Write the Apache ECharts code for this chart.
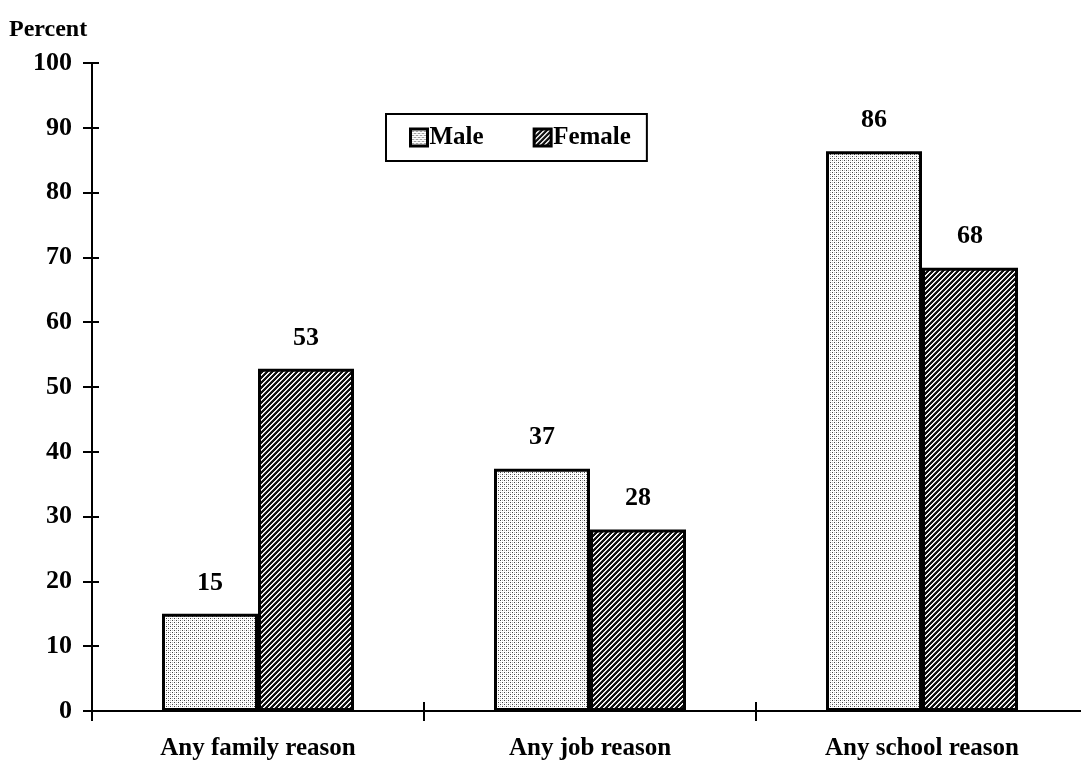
<!DOCTYPE html>
<html>
<head>
<meta charset="utf-8">
<script src="https://cdn.jsdelivr.net/npm/echarts@6/dist/echarts.min.js"></script>
<style>
html,body{margin:0;padding:0;background:#fff;overflow:hidden;}
#chart{width:1088px;height:762px;}
</style>
</head>
<body>
<div id="chart"></div>
<script>
const categories = ['Any family reason', 'Any job reason', 'Any school reason'];
const maleValues = [15, 37.4, 86.4];
const femaleValues = [52.8, 28, 68.4];
const seriesNames = ['Male', 'Female'];
const yTicks = { min: 0, max: 100, interval: 10 };

function dotPattern() {
  const c = document.createElement('canvas');
  c.width = 4; c.height = 4;
  const g = c.getContext('2d');
  g.fillStyle = '#ffffff'; g.fillRect(0, 0, 4, 4);
  g.fillStyle = '#444444';
  g.fillRect(0, 0, 1, 1);
  g.fillRect(2, 2, 1, 1);
  g.fillStyle = '#bbbbbb';
  g.fillRect(2, 0, 1, 1);
  g.fillRect(0, 2, 1, 1);
  return c;
}
function hatchPattern() {
  const c = document.createElement('canvas');
  c.width = 5; c.height = 5;
  const g = c.getContext('2d');
  for (let x = 0; x < 5; x++) {
    for (let y = 0; y < 5; y++) {
      const k = (x + y) % 5;
      g.fillStyle = k === 0 ? '#ffffff' : (k === 1 ? '#dddddd' : '#111111');
      g.fillRect(x, y, 1, 1);
    }
  }
  return c;
}
const malePat = { image: dotPattern(), repeat: 'repeat' };
const femalePat = { image: hatchPattern(), repeat: 'repeat' };

const font = '"Liberation Serif", "DejaVu Serif", serif';
const chart = echarts.init(document.getElementById('chart'), null, { renderer: 'canvas' });

const option = {
  animation: false,
  backgroundColor: '#ffffff',
  textStyle: { fontFamily: font, color: '#000' },
  title: {
    text: 'Percent', left: 4, top: 13,
    textStyle: { fontFamily: font, fontSize: 24, fontWeight: 'bold', color: '#000' }
  },
  legend: {
    left: 386, top: 114,
    orient: 'horizontal',
    borderColor: '#000', borderWidth: 2,
    padding: [11, 16, 11, 23],
    itemGap: 49,
    itemWidth: 17, itemHeight: 17,
    icon: 'rect',
    textStyle: { fontFamily: font, fontSize: 25, fontWeight: 'bold', color: '#000', padding: [0, 0, 0, -3] },
    data: [
      { name: 'Male', itemStyle: { borderColor: '#000', borderWidth: 3 } },
      { name: 'Female', itemStyle: { borderColor: '#000', borderWidth: 3 } }
    ]
  },
  grid: { left: 92, top: 63, right: 0, bottom: 51, containLabel: false },
  xAxis: [
    {
      type: 'category', data: categories, position: 'bottom',
      axisLine: { show: true, lineStyle: { color: '#000', width: 2 } },
      axisTick: { show: true, alignWithLabel: false, length: 10, inside: false, lineStyle: { color: '#000', width: 2 } },
      axisLabel: { show: true, margin: 25, fontFamily: font, fontSize: 25, fontWeight: 'bold', color: '#000' },
      splitLine: { show: false }
    },
    {
      type: 'category', data: categories, position: 'bottom',
      axisLine: { show: false },
      axisTick: { show: true, alignWithLabel: false, length: 9, inside: true, lineStyle: { color: '#000', width: 2 } },
      axisLabel: { show: false },
      splitLine: { show: false }
    }
  ],
  yAxis: [
    {
      type: 'value', position: 'left', min: yTicks.min, max: yTicks.max, interval: yTicks.interval,
      axisLine: { show: true, lineStyle: { color: '#000', width: 2 } },
      axisTick: { show: true, length: 9, inside: false, lineStyle: { color: '#000', width: 2 } },
      axisLabel: { show: true, margin: 20, fontFamily: font, fontSize: 26, fontWeight: 'bold', color: '#000' },
      splitLine: { show: false }
    },
    {
      type: 'value', position: 'left', min: yTicks.min, max: yTicks.max, interval: yTicks.interval,
      axisLine: { show: false },
      axisTick: { show: true, length: 7, inside: true, lineStyle: { color: '#000', width: 2 } },
      axisLabel: { show: false },
      splitLine: { show: false }
    }
  ],
  series: [
    {
      name: seriesNames[0], type: 'bar', xAxisIndex: 0, yAxisIndex: 0,
      data: maleValues, barWidth: 96, barGap: '0%',
      itemStyle: { color: malePat, borderColor: '#000', borderWidth: 3 },
      label: {
        show: true, position: 'top', distance: 18,
        fontFamily: font, fontSize: 26, fontWeight: 'bold', color: '#000',
        formatter: p => String(Math.round(p.value))
      }
    },
    {
      name: seriesNames[1], type: 'bar', xAxisIndex: 0, yAxisIndex: 0,
      data: femaleValues, barWidth: 96, barGap: '0%',
      itemStyle: { color: femalePat, borderColor: '#000', borderWidth: 3 },
      label: {
        show: true, position: 'top', distance: 18,
        fontFamily: font, fontSize: 26, fontWeight: 'bold', color: '#000',
        formatter: p => String(Math.round(p.value))
      }
    }
  ]
};
chart.setOption(option);
</script>
</body>
</html>
